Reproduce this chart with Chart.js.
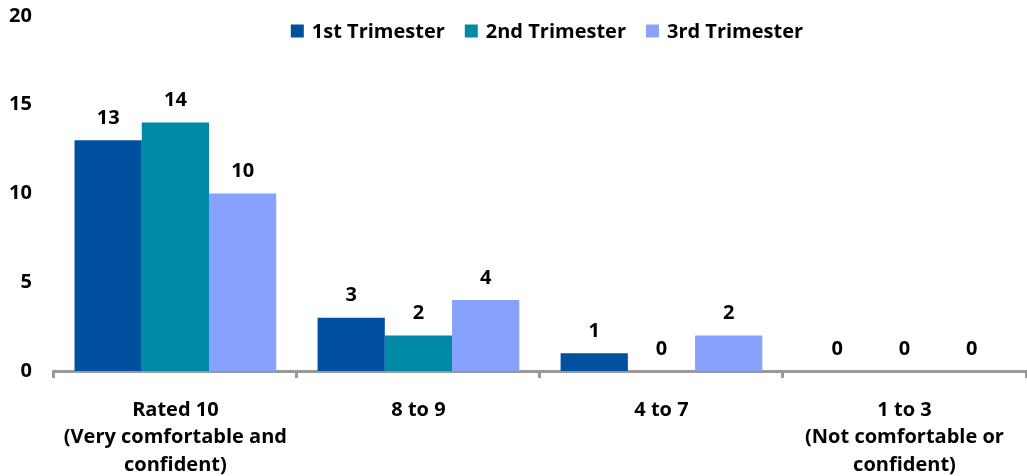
<!DOCTYPE html>
<html>
<head>
<meta charset="utf-8">
<script src="https://cdn.jsdelivr.net/npm/chart.js@4"></script>
<style>
  html, body { margin: 0; padding: 0; background: #fff; }
  #wrap { width: 1027px; height: 476px; position: relative; }
</style>
</head>
<body>
<div id="wrap"><canvas id="chart"></canvas></div>
<script>
// 임신 분기별 평가 막대 차트
const categories = [
  ["Rated 10", "(Very comfortable and", "confident)"],
  ["8 to 9"],
  ["4 to 7"],
  ["1 to 3", "(Not comfortable or", "confident)"]
];
const seriesNames = ["1st Trimester", "2nd Trimester", "3rd Trimester"];
const first = [13, 3, 1, 0];
const second = [14, 2, 0, 0];
const third = [10, 4, 2, 0];
const yTicks = [0, 5, 10, 15, 20];
const colors = ["#0050a0", "#008aa8", "#86a2fc"];

const FONT = "'Open Sans', sans-serif";
const FSIZE = 20;

// 막대 위 값 라벨
const valueLabels = {
  id: "valueLabels",
  afterDatasetsDraw(chart) {
    const ctx = chart.ctx;
    ctx.save();
    ctx.font = "bold " + FSIZE + "px " + FONT;
    ctx.fillStyle = "#000";
    ctx.textAlign = "center";
    ctx.textBaseline = "middle";
    chart.data.datasets.forEach((ds, i) => {
      chart.getDatasetMeta(i).data.forEach((bar, j) => {
        ctx.fillText(String(ds.data[j]), bar.x, bar.y - 22);
      });
    });
    ctx.restore();
  }
};

// 차트 영역 안 위쪽 가운데 범례
const topLegend = {
  id: "topLegend",
  afterDraw(chart) {
    const ctx = chart.ctx;
    const box = 13, gap = 8, spacing = 20;
    ctx.save();
    ctx.font = "bold " + FSIZE + "px " + FONT;
    ctx.textBaseline = "middle";
    const items = chart.data.datasets.map((ds) => ({
      text: ds.label, color: ds.backgroundColor,
      w: box + gap + ctx.measureText(ds.label).width
    }));
    const total = items.reduce((s, it) => s + it.w, 0) + spacing * (items.length - 1);
    let x = (chart.chartArea.left + chart.chartArea.right) / 2 + 7 - total / 2;
    const y = 31;
    items.forEach((it) => {
      ctx.fillStyle = it.color;
      ctx.fillRect(x, y - box / 2, box, box);
      ctx.fillStyle = "#000";
      ctx.textAlign = "left";
      ctx.fillText(it.text, x + box + gap, y + 1);
      x += it.w + spacing;
    });
    ctx.restore();
  }
};

new Chart(document.getElementById("chart"), {
  type: "bar",
  data: {
    labels: categories,
    datasets: [first, second, third].map((d, i) => ({
      label: seriesNames[i],
      data: d,
      backgroundColor: colors[i],
      borderWidth: 0,
      categoryPercentage: 0.83,
      barPercentage: 1.0
    }))
  },
  options: {
    responsive: true,
    maintainAspectRatio: false,
    animation: false,
    layout: { padding: { left: -5, right: 1, top: 0, bottom: 0 } },
    plugins: {
      legend: { display: false },
      tooltip: { enabled: false }
    },
    scales: {
      y: {
        min: 0, max: 20,
        afterBuildTicks: (s) => { s.ticks = yTicks.map((v) => ({ value: v })); },
        afterFit: (s) => { s.paddingTop = 16; },
        grid: { display: false },
        border: { display: false },
        ticks: {
          color: "#000",
          padding: 14,
          font: { family: FONT, size: FSIZE, weight: "bold" }
        }
      },
      x: {
        afterFit: (s) => { s.height = 105; },
        grid: {
          display: true,
          drawOnChartArea: false,
          drawTicks: true,
          tickLength: 7,
          color: "#999",
          lineWidth: 3,
          offset: true
        },
        border: { display: true, color: "#999", width: 3 },
        ticks: {
          color: "#000",
          padding: 18,
          maxRotation: 0,
          autoSkip: false,
          font: { family: FONT, size: FSIZE, weight: "bold", lineHeight: 1.38 }
        }
      }
    }
  },
  plugins: [valueLabels, topLegend]
});
</script>
</body>
</html>
